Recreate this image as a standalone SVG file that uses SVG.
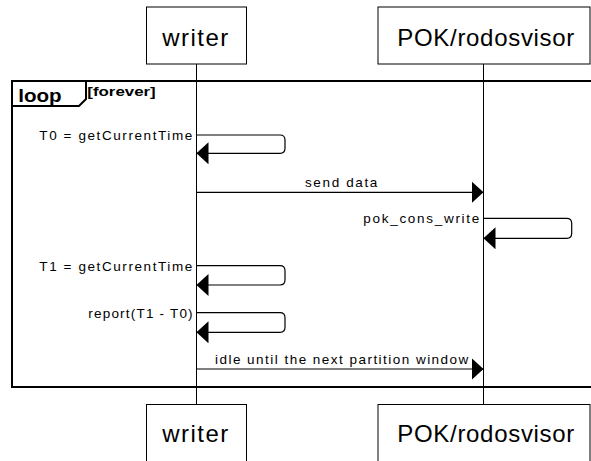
<svg xmlns="http://www.w3.org/2000/svg" width="591" height="461" viewBox="0 0 591 461">
  <style>
    .box { fill: #ffffff; stroke: #000000; stroke-width: 1; }
    .life { stroke: #000000; stroke-width: 1; fill: none; }
    .msg { stroke: #000000; stroke-width: 1.2; fill: none; marker-end: url(#head); }
    .frame { fill: none; stroke: #000000; stroke-width: 2; }
    .pname { font-family: "Liberation Sans", Arial, sans-serif; font-size: 24px; fill: #000000; }
    .label { font-family: "Liberation Sans", Arial, sans-serif; font-size: 13.5px; fill: #000000; }
    .kw { font-family: "Liberation Sans", Arial, sans-serif; font-weight: bold; fill: #000000; }
  </style>
  <defs>
    <marker id="head" viewBox="0 0 12 22" refX="12" refY="11" markerWidth="12" markerHeight="22" markerUnits="userSpaceOnUse" orient="auto">
      <path d="M0,0 L12,11 L0,22 Z" fill="#000000"/>
    </marker>
  </defs>
  <rect width="591" height="461" fill="#ffffff"/>

  <!-- lifelines -->
  <g id="lifelines">
    <line class="life" x1="196.5" y1="64" x2="196.5" y2="405"/>
    <line class="life" x1="483.5" y1="64" x2="483.5" y2="405"/>
  </g>

  <!-- loop frame -->
  <g id="loop">
    <rect class="frame" x="12" y="81" width="590" height="306"/>
    <path class="frame" d="M12,81 H86 V99 L79,106 H12" stroke-width="1.8"/>
    <text class="kw" x="18.3" y="101.5" font-size="18" textLength="43.4" lengthAdjust="spacingAndGlyphs">loop</text>
    <text class="kw" x="87.3" y="95.5" font-size="13" textLength="68.4" lengthAdjust="spacingAndGlyphs">[forever]</text>
  </g>

  <!-- participants -->
  <g id="writer">
    <rect class="box" x="146.5" y="7" width="100" height="57"/>
    <text class="pname" x="162.3" y="45.5" textLength="66" lengthAdjust="spacing">writer</text>
    <rect class="box" x="146.5" y="404.5" width="100" height="70"/>
    <text class="pname" x="162.3" y="441.7" textLength="66" lengthAdjust="spacing">writer</text>
  </g>
  <g id="pok">
    <rect class="box" x="378" y="7" width="212" height="57"/>
    <text class="pname" x="397.3" y="45.5" textLength="177" lengthAdjust="spacing">POK/rodosvisor</text>
    <rect class="box" x="378" y="404.5" width="212" height="70"/>
    <text class="pname" x="397.3" y="442" textLength="177" lengthAdjust="spacing">POK/rodosvisor</text>
  </g>

  <!-- messages -->
  <g id="connectors">
    <path class="msg" d="M196.5,135 H280 Q285,135 285,140 V148.3 Q285,153.3 280,153.3 H196.5"/>
    <path class="msg" d="M196.5,192.3 H483.5"/>
    <path class="msg" d="M483.5,218.3 H566.7 Q571.7,218.3 571.7,223.3 V233.3 Q571.7,238.3 566.7,238.3 H483.5"/>
    <path class="msg" d="M196.5,265.7 H280 Q285,265.7 285,270.7 V280 Q285,285 280,285 H196.5"/>
    <path class="msg" d="M196.5,312.7 H280 Q285,312.7 285,317.7 V327.3 Q285,332.3 280,332.3 H196.5"/>
    <path class="msg" d="M196.5,369 H483.5"/>
  </g>

  <!-- message labels -->
  <g id="labels">
    <text class="label" x="39.3" y="139.5" textLength="153" lengthAdjust="spacing">T0 = getCurrentTime</text>
    <text class="label" x="305" y="186.7" textLength="72.3" lengthAdjust="spacing">send data</text>
    <text class="label" x="363.3" y="223" textLength="116" lengthAdjust="spacing">pok_cons_write</text>
    <text class="label" x="39.3" y="270.5" textLength="153" lengthAdjust="spacing">T1 = getCurrentTime</text>
    <text class="label" x="88.3" y="317.5" textLength="104.3" lengthAdjust="spacing">report(T1 - T0)</text>
    <text class="label" x="215" y="364" textLength="253.3" lengthAdjust="spacing">idle until the next partition window</text>
  </g>
</svg>
